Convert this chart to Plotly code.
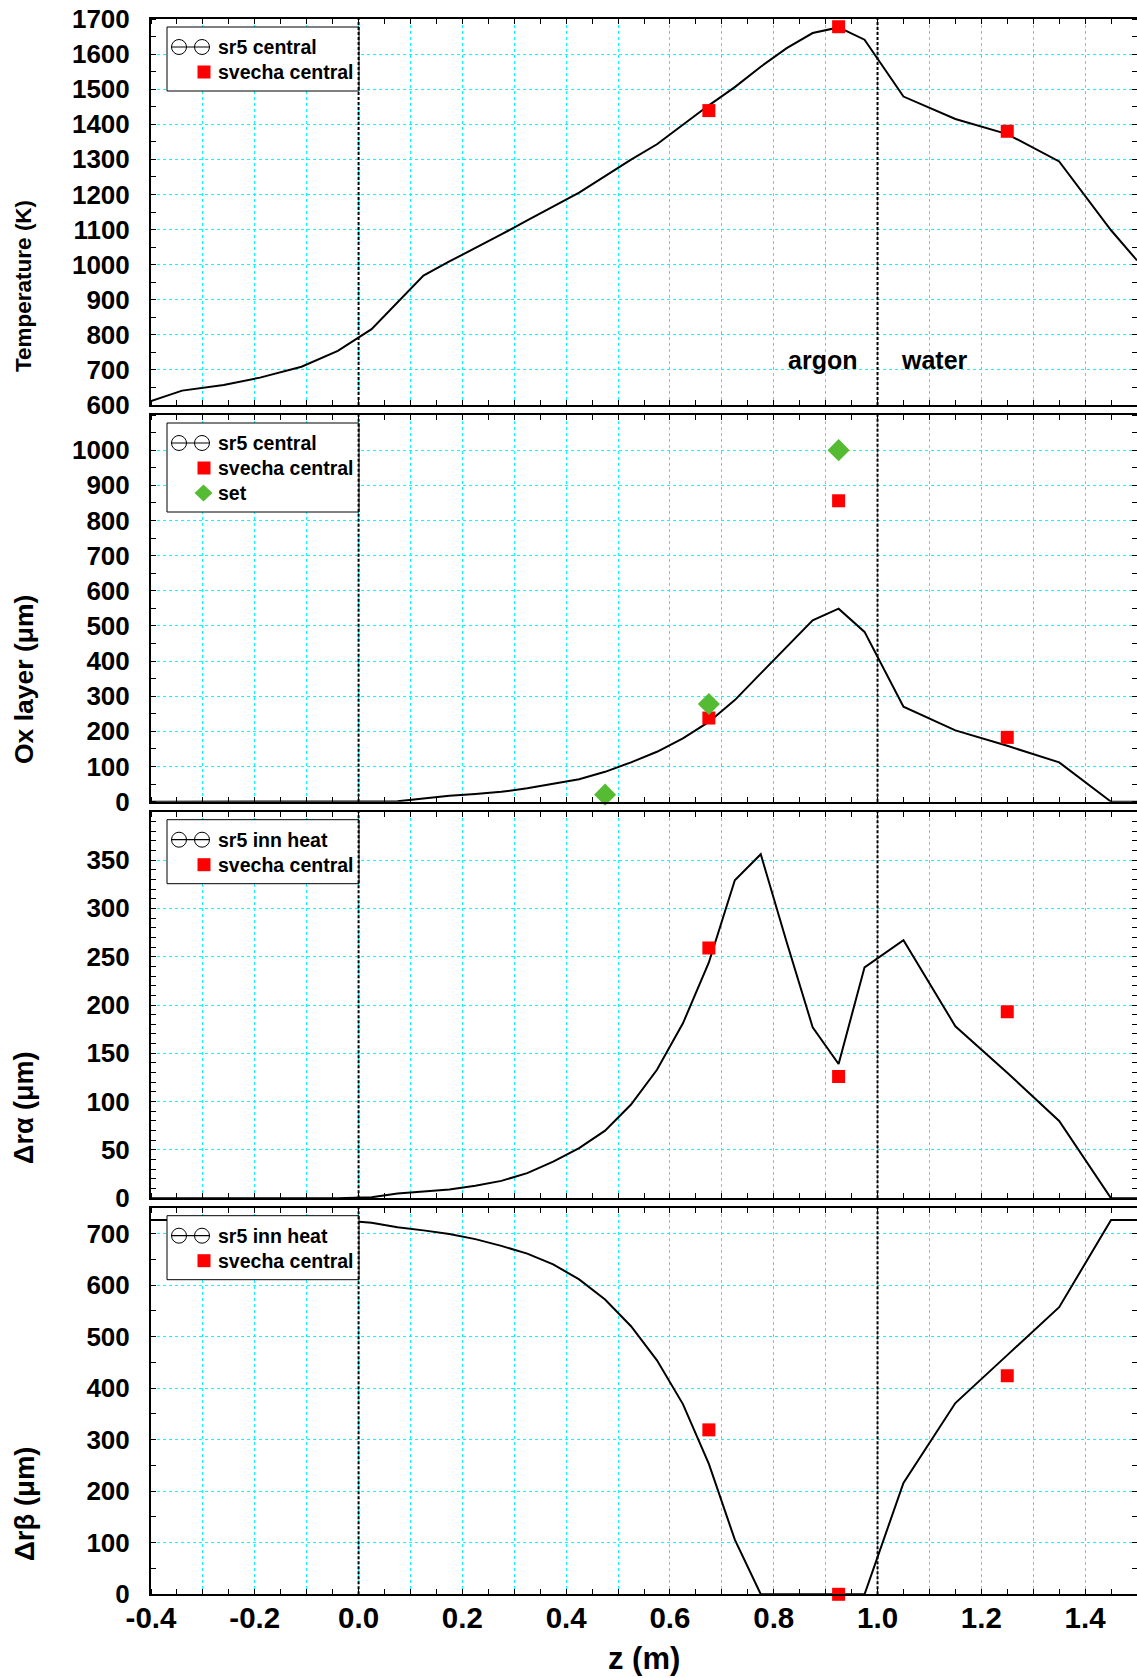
import plotly.graph_objects as go

# ---------------- data ----------------
z_sr5 = [-0.4, -0.34, -0.26, -0.19, -0.11, -0.04, 0.025, 0.075, 0.125, 0.175,
         0.225, 0.275, 0.325, 0.375, 0.425, 0.475, 0.525, 0.575, 0.625, 0.675,
         0.725, 0.775, 0.825, 0.875, 0.925, 0.975, 1.05, 1.15, 1.25, 1.35, 1.45, 1.5]

temp_sr5 = [611, 641, 657, 678, 709, 754, 816, 893, 969, 1009,
            1047, 1086, 1126, 1165, 1205, 1252, 1299, 1343, 1399, 1454,
            1506, 1564, 1617, 1660, 1676, 1641, 1479, 1415, 1372, 1294, 1098, 1012]

ox_sr5 = [0, 0, 0, 0, 0, 0, 0, 1, 9, 17,
          22, 28, 38, 50, 64, 85, 112, 142, 180, 227,
          289, 365, 440, 516, 549, 483, 270, 203, 159, 112, 0, 0]

dra_sr5 = [0, 0, 0, 0, 0, 0, 1, 5, 7, 9,
           13, 18, 26, 38, 52, 70, 97, 133, 181, 244,
           329, 356, 265, 177, 139, 239, 267, 178, 130, 80, 0, 0]

drb_sr5 = [726, 726, 726, 726, 726, 726, 721, 712, 706, 699,
           689, 676, 661, 640, 611, 572, 520, 454, 369, 253,
           106, 0, 0, 0, 0, 0, 216, 371, 464, 557, 726, 726]

z_svecha = [0.675, 0.925, 1.25]
temp_svecha = [1439, 1678, 1380]
ox_svecha = [238, 856, 183]
dra_svecha = [259, 126, 193]
drb_svecha = [319, 0, 424]

z_set = [0.475, 0.675, 0.925]
ox_set = [20, 278, 1000]

x_ticks = [round(-0.4 + 0.1 * k, 1) for k in range(20)]
x_labels = [f"{v:.1f}" if k % 2 == 0 and v < 1.45 else "" for k, v in enumerate(x_ticks)]

# ---------------- page geometry ----------------
PAGE_W, PAGE_H = 1137, 1678
LEFT = 151
PLOT_W = PAGE_W - LEFT


def fx(px):
    return (px - LEFT) / PLOT_W


def fy(py):
    return 1 - py / PAGE_H


# top / bottom pixel rows of the four panels
panel_px = [(19, 405), (415, 801.7), (811.7, 1198.3), (1207.7, 1594.3)]

FONT = "Liberation Sans, Arial, Helvetica, sans-serif"
GRID = "#00ffff"
RED = "#ff0000"
GREEN = "#55bb33"

fig = go.Figure()

series = [
    (z_sr5, temp_sr5, "sr5 central", temp_svecha),
    (z_sr5, ox_sr5, "sr5 central", ox_svecha),
    (z_sr5, dra_sr5, "sr5 inn heat", dra_svecha),
    (z_sr5, drb_sr5, "sr5 inn heat", drb_svecha),
]

for i, (zz, yy, name, sv) in enumerate(series, start=1):
    xa = "x" if i == 1 else f"x{i}"
    ya = "y" if i == 1 else f"y{i}"
    fig.add_trace(go.Scatter(x=zz, y=yy, mode="lines", name=name,
                             line=dict(color="black", width=2),
                             xaxis=xa, yaxis=ya, showlegend=False))
    fig.add_trace(go.Scatter(x=z_svecha, y=sv, mode="markers", name="svecha central",
                             marker=dict(symbol="square", size=13, color=RED),
                             cliponaxis=False, xaxis=xa, yaxis=ya, showlegend=False))
    if i == 2:
        fig.add_trace(go.Scatter(x=z_set, y=ox_set, mode="markers", name="set",
                                 marker=dict(symbol="diamond", size=17, color=GREEN),
                                 cliponaxis=False, xaxis=xa, yaxis=ya, showlegend=False))

y_specs = [
    dict(range=[600, 1700], tickvals=list(range(600, 1701, 100)), minor_dtick=50),
    dict(range=[0, 1100], tickvals=list(range(0, 1001, 100)), minor_dtick=50),
    dict(range=[0, 400], tickvals=list(range(0, 351, 50)), minor_dtick=10),
    dict(range=[0, 750], tickvals=list(range(0, 701, 100)), minor_dtick=50),
]

layout = {}
for i, ((top, bot), ys) in enumerate(zip(panel_px, y_specs), start=1):
    xk = "xaxis" if i == 1 else f"xaxis{i}"
    yk = "yaxis" if i == 1 else f"yaxis{i}"
    layout[xk] = dict(
        domain=[0, 1], anchor="y" if i == 1 else f"y{i}", automargin=False,
        range=[-0.4, 1.5], tickmode="array", tickvals=x_ticks, ticktext=x_labels,
        showticklabels=(i == 4), ticks="",
        tickfont=dict(family=FONT, size=29.5, color="black", weight="bold"),
        ticklabelstandoff=-4,
        showgrid=True, gridcolor=GRID, griddash="3px,3px", gridwidth=1,
        zeroline=False, showline=True, linecolor="black", linewidth=2, mirror="ticks",
        minor=dict(ticks="inside", ticklen=5, tickwidth=1, tickcolor="black",
                   dtick=0.05, tick0=-0.4, showgrid=False),
    )
    layout[yk] = dict(
        domain=[fy(bot), fy(top)], anchor="x" if i == 1 else f"x{i}", automargin=False,
        range=ys["range"], tickmode="array", tickvals=ys["tickvals"], ticks="",
        tickfont=dict(family=FONT, size=26, color="black", weight="bold"),
        ticklabelstandoff=14,
        showgrid=True, gridcolor=GRID, griddash="3px,3px", gridwidth=1,
        zeroline=False, showline=True, linecolor="black", linewidth=2, mirror="ticks",
        minor=dict(ticks="inside", ticklen=5, tickwidth=1, tickcolor="black",
                   dtick=ys["minor_dtick"], tick0=ys["range"][0], showgrid=False),
    )

shapes = []
annotations = []

# legends drawn inside each panel
legend_rows = [
    [("circles", "sr5 central"), ("square", "svecha central")],
    [("circles", "sr5 central"), ("square", "svecha central"), ("diamond", "set")],
    [("circles", "sr5 inn heat"), ("square", "svecha central")],
    [("circles", "sr5 inn heat"), ("square", "svecha central")],
]
for (top, bot), rows in zip(panel_px, legend_rows):
    bx0, bx1 = 167, 359
    by0 = top + 8
    by1 = by0 + 14 + 25 * len(rows)
    shapes.append(dict(type="rect", xref="paper", yref="paper",
                       x0=fx(bx0), x1=fx(bx1), y0=fy(by1), y1=fy(by0),
                       line=dict(color="black", width=1), fillcolor="white", layer="above"))
    for k, (kind, label) in enumerate(rows):
        ry = by0 + 20 + 25 * k
        if kind == "circles":
            shapes.append(dict(type="line", xref="paper", yref="paper",
                               x0=fx(171), x1=fx(210), y0=fy(ry), y1=fy(ry),
                               line=dict(color="black", width=1.2)))
            for cx in (179, 202):
                shapes.append(dict(type="circle", xref="paper", yref="paper",
                                   x0=fx(cx - 7.5), x1=fx(cx + 7.5),
                                   y0=fy(ry + 7.5), y1=fy(ry - 7.5),
                                   line=dict(color="black", width=1)))
        elif kind == "square":
            shapes.append(dict(type="rect", xref="paper", yref="paper",
                               x0=fx(197.5), x1=fx(210.5), y0=fy(ry + 6.5), y1=fy(ry - 6.5),
                               fillcolor=RED, line=dict(width=0)))
        else:
            cx = 203.5
            path = (f"M {fx(cx)} {fy(ry - 8.5)} L {fx(cx + 9)} {fy(ry)} "
                    f"L {fx(cx)} {fy(ry + 8.5)} L {fx(cx - 9)} {fy(ry)} Z")
            shapes.append(dict(type="path", xref="paper", yref="paper", path=path,
                               fillcolor=GREEN, line=dict(width=0)))
        annotations.append(dict(xref="paper", yref="paper", x=fx(216), y=fy(ry),
                                xanchor="left", yanchor="middle", showarrow=False,
                                text=label,
                                font=dict(family=FONT, size=19.5, color="black", weight="bold")))

# dotted boundaries at z = 0 and z = 1
for i in range(1, 5):
    xa = "x" if i == 1 else f"x{i}"
    ya = "y" if i == 1 else f"y{i}"
    for xv in (0.0, 1.0):
        shapes.append(dict(type="line", xref=xa, yref=f"{ya} domain",
                           x0=xv, x1=xv, y0=0, y1=1,
                           line=dict(color="black", width=2, dash="3px,2px"), layer="above"))

# axis titles (text, vertical centre in px, font size)
ytitles = [("Temperature (K)", 286, 22.5), ("Ox layer (μm)", 680, 26.5),
           ("Δrα (μm)", 1108, 27), ("Δrβ (μm)", 1504, 27.5)]
for text, cy, size in ytitles:
    annotations.append(dict(xref="paper", yref="paper", x=fx(24), y=fy(cy),
                            xanchor="center", yanchor="middle", textangle=-90,
                            showarrow=False, text=text,
                            font=dict(family=FONT, size=size, color="black", weight="bold")))
annotations.append(dict(xref="paper", yref="paper", x=fx(644), y=fy(1658),
                        xanchor="center", yanchor="middle", showarrow=False, text="z (m)",
                        font=dict(family=FONT, size=31, color="black", weight="bold")))

# region labels in the temperature panel
for text, xv in (("argon", 0.893), ("water", 1.11)):
    annotations.append(dict(xref="x", yref="y", x=xv, y=727, xanchor="center",
                            yanchor="middle", showarrow=False, text=text,
                            font=dict(family=FONT, size=25, color="black", weight="bold")))

fig.update_layout(
    width=PAGE_W, height=PAGE_H,
    margin=dict(l=LEFT, r=0, t=0, b=0, autoexpand=False),
    paper_bgcolor="white", plot_bgcolor="white",
    showlegend=False,
    shapes=shapes, annotations=annotations,
    **layout,
)

fig.write_html("out.html")
